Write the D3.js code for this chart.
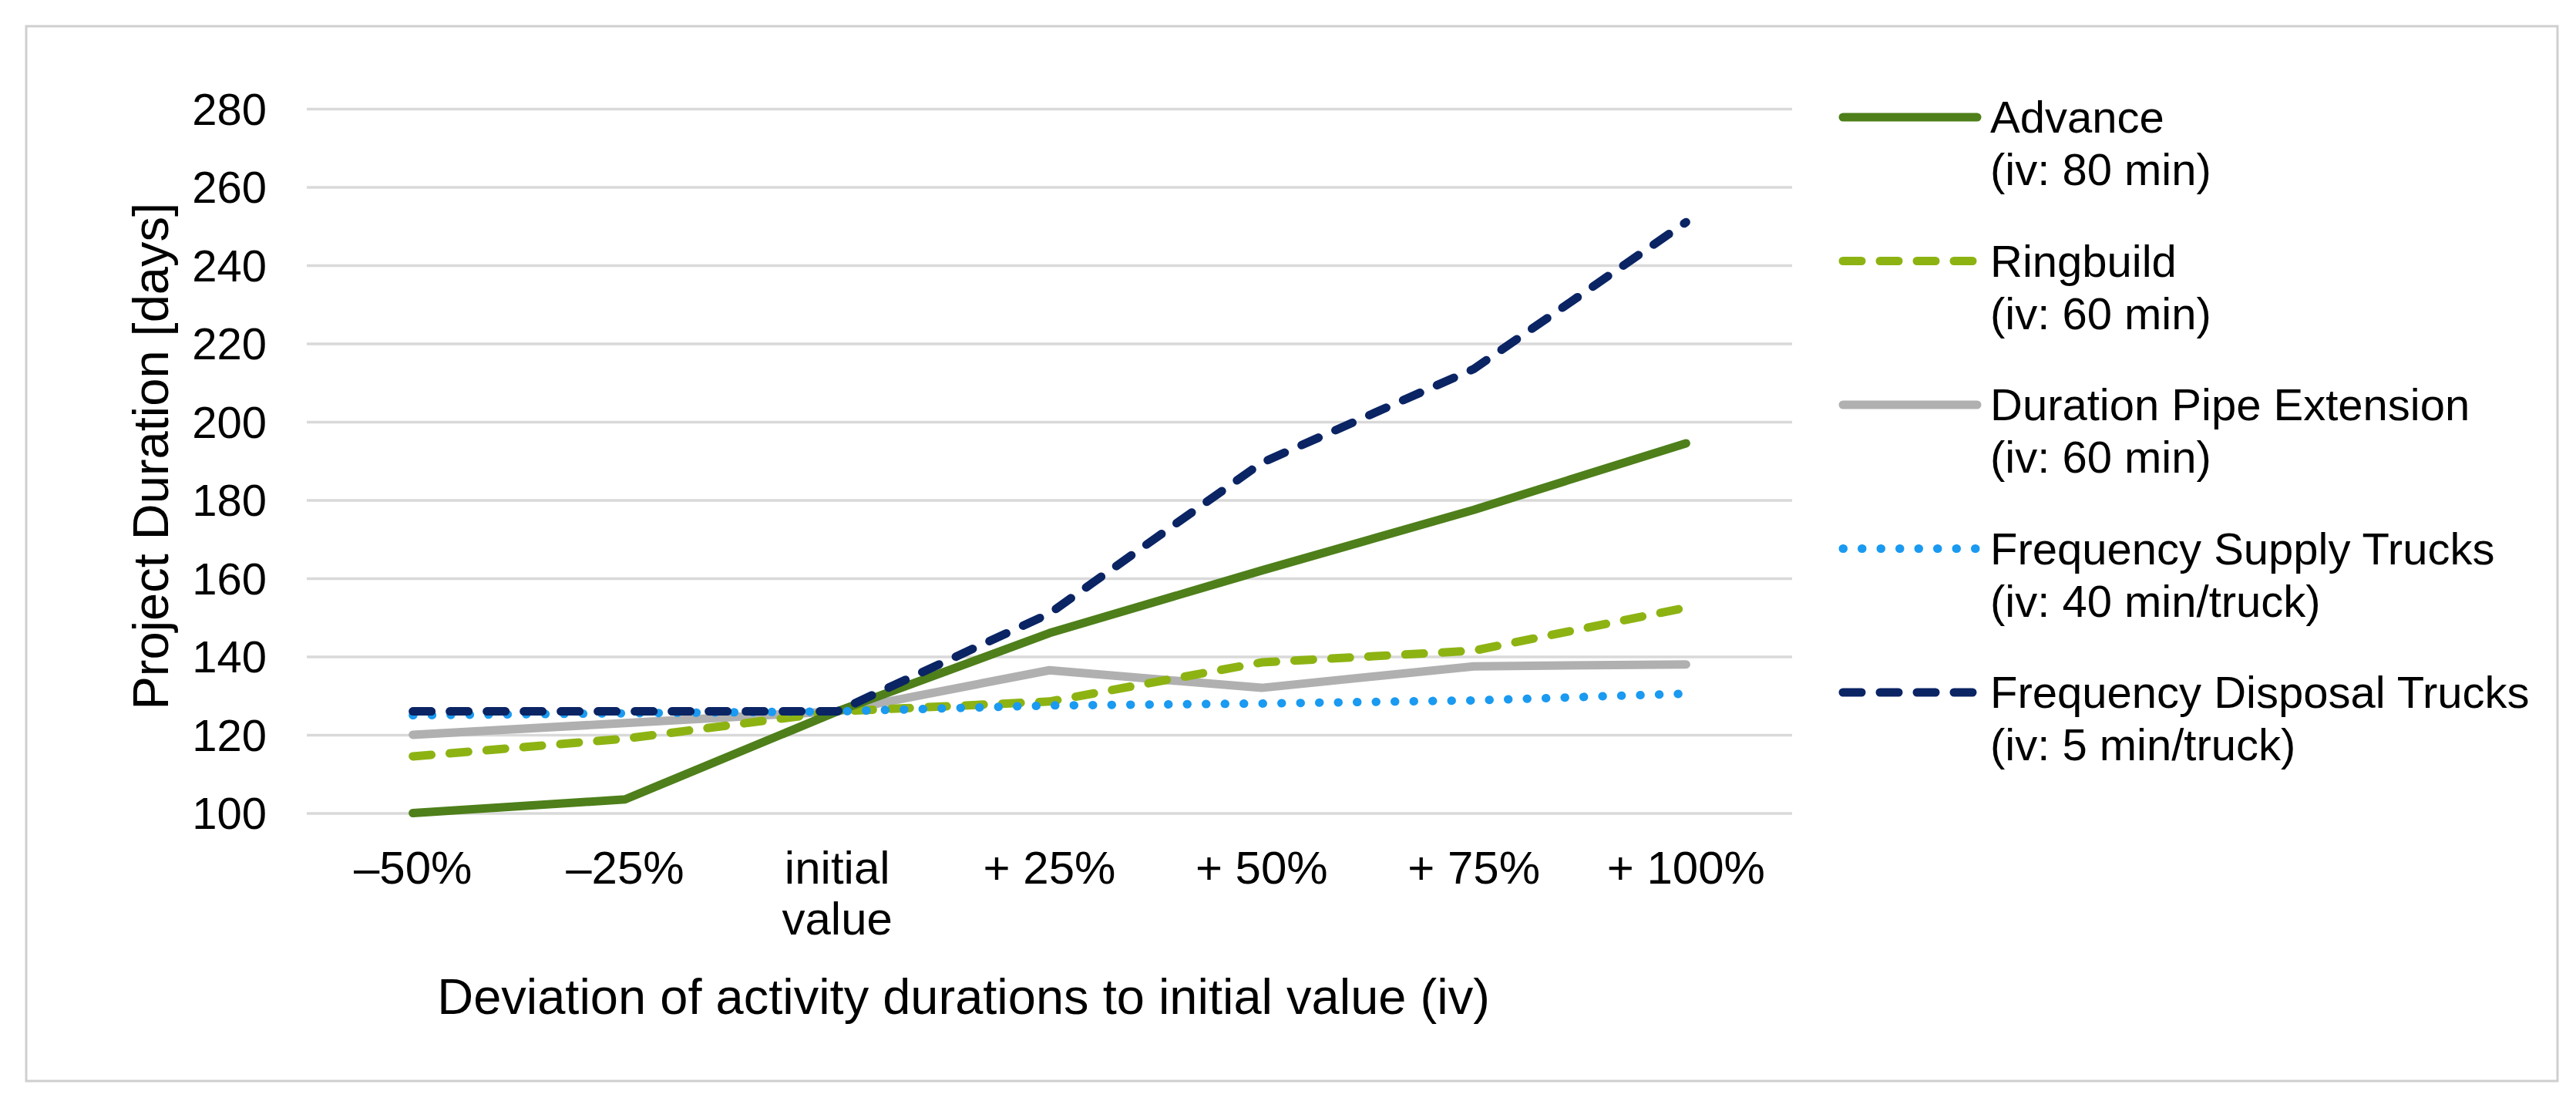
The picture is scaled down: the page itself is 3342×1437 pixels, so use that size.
<!DOCTYPE html>
<html>
<head>
	<meta http-equiv="Content-Type" content="text/html;charset=utf-8">
	<title>Project Duration</title>
	<script src="https://d3js.org/d3.v7.min.js"></script>
	<style>
		html,body {
			margin: 0;
			padding: 0;
			background: #ffffff;
		}
		text {
			font-family: "Liberation Sans", Arial, sans-serif;
			fill: #000000;
		}
		.grid line {
			stroke: #d9d9d9;
			stroke-width: 3.5px;
		}
		.grid path { display: none; }
		.series {
			fill: none;
			stroke-width: 11px;
			stroke-linejoin: round;
		}
	</style>
</head>
<body>
<script type="text/javascript">

	// data
	let categories = ["–50%", "–25%", "initial value", "+ 25%", "+ 50%", "+ 75%", "+ 100%"];
	let advance   = [100, 103.5, 126, 146, 162, 177.5, 194.5];
	let ringbuild = [114.5, 119, 126, 128.5, 138.5, 141.5, 152.5];
	let pipeExt   = [120, 123, 126, 136.5, 132, 137.5, 138];
	let supply    = [125, 125.5, 126, 127.5, 128, 128.8, 130.5];
	let disposal  = [126, 126, 126, 151, 189.5, 213.5, 251];
	let yTicks = [100, 120, 140, 160, 180, 200, 220, 240, 260, 280];

	let seriesNames = [
		["Advance", "(iv: 80 min)"],
		["Ringbuild", "(iv: 60 min)"],
		["Duration Pipe Extension", "(iv: 60 min)"],
		["Frequency Supply Trucks", "(iv: 40 min/truck)"],
		["Frequency Disposal Trucks", "(iv: 5 min/truck)"]
	];

	// styles per series
	let styles = [
		{color: "#4e7f1a", dash: null},
		{color: "#8db313", dash: "24 24"},
		{color: "#b0b0b0", dash: null},
		{color: "#1a9af0", dash: "0.5 24"},
		{color: "#0a2464", dash: "24 24"}
	];

	let allSeries = [advance, ringbuild, pipeExt, supply, disposal];

	let W = 3342, H = 1437;
	let plot = {left: 398, right: 2325, top: 141, bottom: 1054.5};

	let svg = d3.select("body")
		.append("svg")
		.attr("width", W)
		.attr("height", H);

	svg.append("rect")
		.attr("x", 34).attr("y", 34)
		.attr("width", 3284).attr("height", 1368)
		.attr("fill", "#ffffff")
		.attr("stroke", "#cfcfcf")
		.attr("stroke-width", 3);

	let x = d3.scaleBand()
		.domain(categories)
		.range([plot.left, plot.right])
		.padding(0);

	let y = d3.scaleLinear()
		.domain([100, 280])
		.range([plot.bottom, plot.top]);

	// gridlines + y labels
	let yAxis = svg.append("g")
		.attr("class", "grid")
		.attr("transform", "translate(" + plot.left + ",0)")
		.call(d3.axisLeft(y)
			.tickValues(yTicks)
			.tickSize(-(plot.right - plot.left))
			.tickPadding(52));

	yAxis.selectAll("text")
		.style("font-size", "58px")
		.attr("dy", "0.35em");

	// x labels (no axis line in the original)
	let xAxis = svg.append("g")
		.attr("transform", "translate(0," + plot.bottom + ")")
		.call(d3.axisBottom(x).tickSize(0).tickPadding(0));

	xAxis.select(".domain").remove();

	xAxis.selectAll("text")
		.style("font-size", "60px")
		.attr("dy", null)
		.attr("y", 91)
		.each(function(d) {
			let t = d3.select(this);
			if (d == "initial value") {
				t.text(null);
				d.split(" ").forEach(function(w, i) {
					t.append("tspan")
						.attr("x", 0)
						.attr("y", 91 + i * 66)
						.text(w);
				});
			}
		});

	let line = d3.line()
		.x(function(d, i) { return x(categories[i]) + x.bandwidth() / 2; })
		.y(function(d) { return y(d); });

	// disposal on top
	let drawOrder = [2, 1, 0, 3, 4];
	drawOrder.forEach(function(k) {
		svg.append("path")
			.attr("class", "series")
			.attr("d", line(allSeries[k]))
			.attr("stroke", styles[k].color)
			.attr("stroke-dasharray", styles[k].dash)
			.attr("stroke-linecap", "round");
	});

	// axis titles
	svg.append("text")
		.attr("transform", "translate(218," + ((plot.top + plot.bottom) / 2 - 6) + ") rotate(-90)")
		.attr("text-anchor", "middle")
		.style("font-size", "65px")
		.text("Project Duration [days]");

	svg.append("text")
		.attr("x", 1250)
		.attr("y", 1315)
		.attr("text-anchor", "middle")
		.style("font-size", "65px")
		.text("Deviation of activity durations to initial value (iv)");

	// legend
	let legend = svg.append("g")
		.attr("transform", "translate(2391,152)");

	seriesNames.forEach(function(n, i) {
		let row = legend.append("g")
			.attr("transform", "translate(0," + (i * 186.5) + ")");

		row.append("line")
			.attr("x1", 0).attr("x2", 174)
			.attr("y1", 0).attr("y2", 0)
			.attr("stroke", styles[i].color)
			.attr("stroke-width", 11)
			.attr("stroke-linecap", "round")
			.attr("stroke-dasharray", styles[i].dash);

		n.forEach(function(s, j) {
			row.append("text")
				.attr("x", 191)
				.attr("y", 20 + j * 68)
				.style("font-size", "58px")
				.text(s);
		});
	});

</script>
</body>
</html>
